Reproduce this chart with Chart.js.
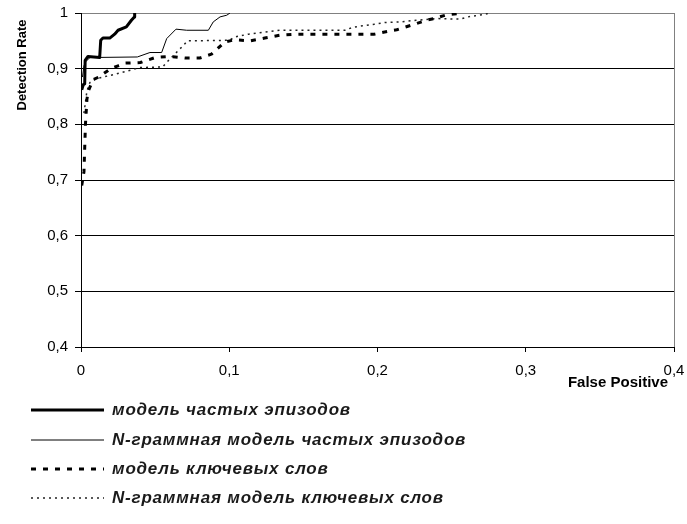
<!DOCTYPE html>
<html>
<head>
<meta charset="utf-8">
<script src="https://cdn.jsdelivr.net/npm/chart.js@4.4.1/dist/chart.umd.min.js"></script>
<style>
  html, body { margin: 0; padding: 0; background: #fff; }
  #wrap { width: 687px; height: 524px; position: relative; }
</style>
</head>
<body>
<div id="wrap"><canvas id="c" width="687" height="524"></canvas></div>
<script>
// ---- data ----
const seriesLabels = [
  'модель частых эпизодов',
  'N-граммная модель частых эпизодов',
  'модель ключевых слов',
  'N-граммная модель ключевых слов'
];

// model of frequent episodes (thick solid)
const fpEpisodes = [0.0005, 0.0015, 0.0025, 0.0028, 0.0047, 0.0126, 0.0133, 0.0148, 0.0194, 0.0227, 0.025, 0.0306, 0.034, 0.036, 0.0362];
const drEpisodes = [0.862, 0.871, 0.873, 0.915, 0.922, 0.920, 0.951, 0.955, 0.955, 0.962, 0.969, 0.975, 0.987, 0.993, 1.0];

// N-gram model of frequent episodes (thin solid)
const fpNgramEpisodes = [0.001, 0.002, 0.003, 0.006, 0.038, 0.0465, 0.0544, 0.0578, 0.0641, 0.0713, 0.0859, 0.0892, 0.0938, 0.0983, 0.1005];
const drNgramEpisodes = [0.885, 0.905, 0.912, 0.92, 0.921, 0.929, 0.929, 0.954, 0.971, 0.969, 0.969, 0.984, 0.993, 0.996, 1.0];

// keyword model (dashed)
const fpKeywords = [0.0005, 0.002, 0.003, 0.004, 0.005, 0.008, 0.012, 0.02, 0.025, 0.03, 0.04, 0.05, 0.06, 0.07, 0.08, 0.088, 0.097, 0.104, 0.114, 0.124, 0.134, 0.146, 0.198, 0.2085, 0.213, 0.224, 0.233, 0.238, 0.247, 0.258];
const drKeywords = [0.69, 0.715, 0.80, 0.845, 0.86, 0.88, 0.885, 0.90, 0.905, 0.91, 0.911, 0.92, 0.922, 0.919, 0.919, 0.926, 0.948, 0.952, 0.95, 0.955, 0.96, 0.962, 0.962, 0.968, 0.97, 0.979, 0.987, 0.99, 0.997, 1.0];

// N-gram keyword model (dotted)
const fpNgramKeywords = [0.002, 0.004, 0.006, 0.01, 0.02, 0.03, 0.04, 0.055, 0.058, 0.068, 0.072, 0.1, 0.104, 0.113, 0.122, 0.134, 0.178, 0.183, 0.19, 0.198, 0.205, 0.216, 0.226, 0.24, 0.256, 0.261, 0.266, 0.271, 0.276];
const drNgramKeywords = [0.82, 0.86, 0.875, 0.882, 0.888, 0.895, 0.902, 0.903, 0.912, 0.939, 0.95, 0.951, 0.957, 0.962, 0.965, 0.969, 0.969, 0.974, 0.977, 0.98, 0.983, 0.984, 0.987, 0.99, 0.989, 0.993, 0.995, 0.997, 1.0];

const xTickValues = [0, 0.1, 0.2, 0.3, 0.4];
const xTickLabels = ['0', '0,1', '0,2', '0,3', '0,4'];
const yTickValues = [0.4, 0.5, 0.6, 0.7, 0.8, 0.9, 1];
const yTickLabels = ['0,4', '0,5', '0,6', '0,7', '0,8', '0,9', '1'];

const xTitle = 'False Positive';
const yTitle = 'Detection Rate';

// ---- build ----
const pts = (xs, ys) => xs.map((x, i) => ({ x: x, y: ys[i] }));
const FONT = "'Liberation Sans', Arial, sans-serif";

const datasets = [
  { label: seriesLabels[0], data: pts(fpEpisodes, drEpisodes), borderColor: '#000', borderWidth: 3, borderDash: [] },
  { label: seriesLabels[1], data: pts(fpNgramEpisodes, drNgramEpisodes), borderColor: '#000', borderWidth: 1, borderDash: [] },
  { label: seriesLabels[2], data: pts(fpKeywords, drKeywords), borderColor: '#000', borderWidth: 3, borderDash: [5, 7] },
  { label: seriesLabels[3], data: pts(fpNgramKeywords, drNgramKeywords), borderColor: '#222', borderWidth: 1.5, borderDash: [2, 4] }
].map(d => Object.assign(d, { pointRadius: 0, tension: 0, fill: false, borderJoinStyle: 'round' }));

const overlay = {
  id: 'overlay',
  afterDraw(chart) {
    const ctx = chart.ctx;
    ctx.save();
    // axis titles
    ctx.fillStyle = '#000';
    ctx.font = 'bold 13px ' + FONT;
    ctx.textAlign = 'center';
    ctx.textBaseline = 'middle';
    ctx.save();
    ctx.translate(22, 65);
    ctx.rotate(-Math.PI / 2);
    ctx.fillText(yTitle, 0, 0);
    ctx.restore();
    ctx.font = 'bold 15px ' + FONT;
    ctx.textAlign = 'right';
    ctx.fillText(xTitle, 668, 383);
    // legend
    const ys = [410, 440, 469, 498];
    chart.data.datasets.forEach((ds, i) => {
      const y = ys[i];
      ctx.beginPath();
      ctx.lineWidth = ds.borderWidth;
      ctx.strokeStyle = ds.borderColor;
      ctx.setLineDash(ds.borderDash || []);
      ctx.moveTo(31, y);
      ctx.lineTo(104, y);
      ctx.stroke();
      ctx.setLineDash([]);
      ctx.fillStyle = '#1a1a1a';
      ctx.font = 'italic bold 17px ' + FONT;
      try { ctx.letterSpacing = '0.8px'; } catch (e) {}
      ctx.textAlign = 'left';
      ctx.textBaseline = 'middle';
      ctx.fillText(ds.label, 112, y);
      try { ctx.letterSpacing = '0px'; } catch (e) {}
    });
    ctx.restore();
  }
};

new Chart(document.getElementById('c'), {
  type: 'line',
  data: { datasets: datasets },
  plugins: [overlay],
  options: {
    responsive: false,
    animation: false,
    events: [],
    layout: { padding: { top: 13, right: 0, bottom: 137, left: 0 } },
    plugins: { legend: { display: false }, tooltip: { enabled: false } },
    scales: {
      x: {
        type: 'linear',
        min: 0, max: 0.4,
        afterBuildTicks: s => { s.ticks = xTickValues.map(v => ({ value: v })); },
        afterFit: s => { s.height = 40; s.paddingRight = 13; s.paddingLeft = 0; },
        ticks: {
          callback: (v, i) => xTickLabels[i],
          color: '#000', font: { family: FONT, size: 15 }, padding: 10, maxRotation: 0, autoSkip: false
        },
        grid: {
          color: c => (c.tick && c.tick.value === 0.4) ? '#808080' : 'rgba(0,0,0,0)',
          tickColor: '#000', tickLength: 5, lineWidth: 1, drawTicks: true
        },
        border: { color: '#000', width: 1 }
      },
      y: {
        type: 'linear',
        min: 0.4, max: 1,
        afterBuildTicks: s => { s.ticks = yTickValues.map(v => ({ value: v })); },
        afterFit: s => { s.width = 81; s.paddingTop = 0; s.paddingBottom = 0; },
        ticks: {
          callback: (v, i) => yTickLabels[i],
          color: '#000', font: { family: FONT, size: 15 }, padding: 7, autoSkip: false
        },
        grid: {
          color: c => (c.tick && c.tick.value === 1) ? '#808080' : '#000',
          tickColor: '#000', tickLength: 6, lineWidth: 1
        },
        border: { color: '#000', width: 1 }
      }
    }
  }
});
</script>
</body>
</html>
